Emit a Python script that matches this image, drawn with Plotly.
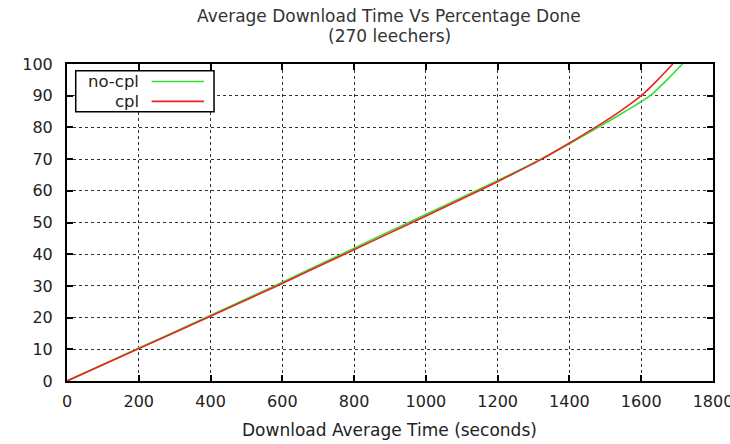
import plotly.graph_objects as go

pct = [0, 10, 20, 30, 40, 50, 60, 65, 70, 75, 80, 85, 90, 95, 100]
time_nocpl = [0, 193, 387, 578, 765, 952, 1140, 1232, 1320, 1402, 1480, 1555, 1625, 1672, 1715]
time_cpl = [0, 196, 392, 585, 773, 962, 1148, 1237, 1323, 1399, 1472, 1540, 1600, 1646, 1688]

FONT = "DejaVu Sans"
TXT = "#222222"
fig = go.Figure()
fig.add_trace(go.Scatter(x=time_nocpl, y=pct, mode="lines", name="no-cpl",
                         line=dict(color="#33e033", width=1.6, shape="spline", smoothing=0.6)))
fig.add_trace(go.Scatter(x=time_cpl, y=pct, mode="lines", name="cpl",
                         line=dict(color="#ee2222", width=1.6, shape="spline", smoothing=0.6)))

axis_common = dict(showline=True, linecolor="black", linewidth=2, mirror="allticks",
                   ticks="inside", ticklen=6, tickcolor="black", tickwidth=1.5,
                   showgrid=True, gridcolor="#333333", griddash="dot", gridwidth=1,
                   zeroline=False, ticklabeloverflow="allow", automargin=False,
                   tickfont=dict(family=FONT, size=16, color=TXT))
fig.update_xaxes(range=[0, 1800], dtick=200, ticklabelstandoff=5, **axis_common)
fig.update_yaxes(range=[0, 100], dtick=10, ticklabelstandoff=9, **axis_common)

# titles
fig.add_annotation(xref="paper", yref="paper", x=0.499, y=1.151,
                   text="Average Download Time Vs Percentage Done", showarrow=False,
                   xanchor="center", yanchor="middle",
                   font=dict(family=FONT, size=17, color="#333"))
fig.add_annotation(xref="paper", yref="paper", x=0.499, y=1.088,
                   text="(270 leechers)", showarrow=False,
                   xanchor="center", yanchor="middle",
                   font=dict(family=FONT, size=17, color="#333"))
fig.add_annotation(xref="paper", yref="paper", x=0.499, y=-0.1546,
                   text="Download Average Time (seconds)", showarrow=False,
                   xanchor="center", yanchor="middle",
                   font=dict(family=FONT, size=17, color=TXT))

# custom gnuplot-style key
fig.add_shape(type="rect", xref="paper", yref="paper", x0=0.0135, x1=0.2276,
              y0=0.8495, y1=0.979, line=dict(color="black", width=1.5),
              fillcolor="white", layer="above")
rows = [("no-cpl", "#33e033", 0.945), ("cpl", "#ee2222", 0.882)]
for name, col, yy in rows:
    fig.add_annotation(xref="paper", yref="paper", x=0.1146, y=yy, text=name,
                       showarrow=False, xanchor="right", yanchor="middle",
                       font=dict(family=FONT, size=16.5, color=TXT))
    fig.add_shape(type="line", xref="paper", yref="paper", x0=0.131, x1=0.212,
                  y0=yy, y1=yy, line=dict(color=col, width=1.6), layer="above")

fig.update_layout(
    width=730, height=444, showlegend=False,
    margin=dict(l=67, r=17, t=64, b=63, autoexpand=False),
    plot_bgcolor="white", paper_bgcolor="white",
)
fig.write_html("out.html")
